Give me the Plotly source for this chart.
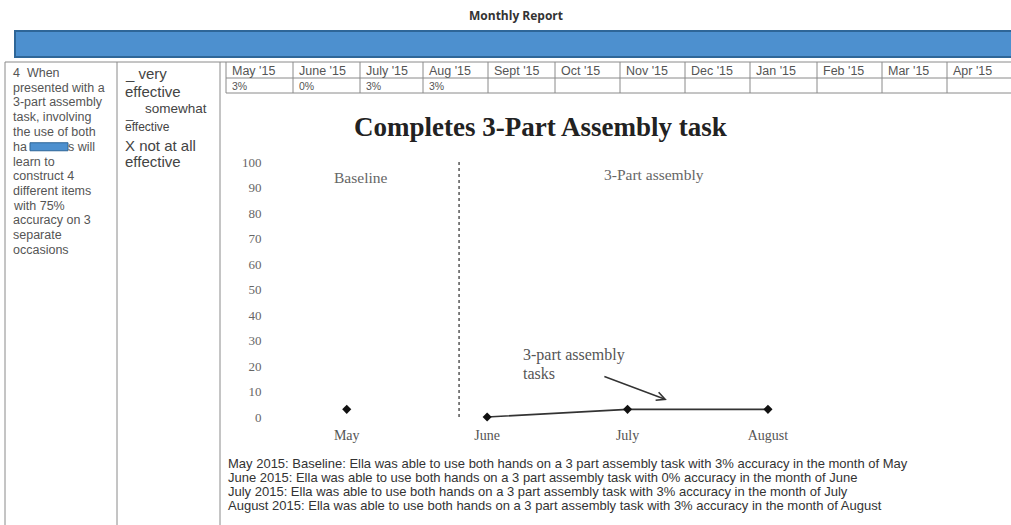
import plotly.graph_objects as go

# ---------------- data ----------------
months = ["May", "June", "July", "August"]
baseline_months = ["May"]
baseline_values = [3]
intervention_months = ["June", "July", "August"]
intervention_values = [0, 3, 3]
y_ticks = [0, 10, 20, 30, 40, 50, 60, 70, 80, 90, 100]

table_months = ["May '15", "June '15", "July '15", "Aug '15", "Sept '15", "Oct '15",
                "Nov '15", "Dec '15", "Jan '15", "Feb '15", "Mar '15", "Apr '15"]
table_values = ["3%", "0%", "3%", "3%", "", "", "", "", "", "", "", ""]

goal_lines = ["4  When", "presented with a", "3-part assembly", "task, involving",
              "the use of both", None, "learn to", "construct 4", "different items",
              "with 75%", "accuracy on 3", "separate", "occasions"]

notes = [
    "May 2015: Baseline: Ella was able to use both hands on a 3 part assembly task with 3% accuracy in the month of May",
    "June 2015: Ella was able to use both hands on a 3 part assembly task with 0% accuracy in the month of June",
    "July 2015: Ella was able to use both hands on a 3 part assembly task with 3% accuracy in the month of July",
    "August 2015: Ella was able to use both hands on a 3 part assembly task with 3% accuracy in the month of August",
]

W, H = 1011, 525


def px(x):
    return x / W


def py(y):
    return 1 - y / H


SANS = "Liberation Sans"
SERIF = "Liberation Serif"

fig = go.Figure()

fig.add_trace(go.Scatter(
    x=baseline_months, y=baseline_values, mode="markers",
    marker=dict(symbol="diamond", size=7, color="#111"),
    showlegend=False, hoverinfo="skip"))
fig.add_trace(go.Scatter(
    x=intervention_months, y=intervention_values, mode="lines+markers",
    line=dict(color="#333", width=1.6),
    marker=dict(symbol="diamond", size=7, color="#111"),
    showlegend=False, hoverinfo="skip"))

shapes = []
annotations = []

# blue header bar
shapes.append(dict(type="rect", xref="paper", yref="paper",
                   x0=px(15), x1=px(1013), y0=py(57), y1=py(31),
                   fillcolor="#4d90cf", line=dict(color="#2e6698", width=2)))

# table lines
grid = dict(color="#8a8a8a", width=1)
shapes.append(dict(type="line", xref="paper", yref="paper",
                   x0=px(5), x1=px(1011), y0=py(62), y1=py(62), line=grid))
for x in (5, 117, 220):
    shapes.append(dict(type="line", xref="paper", yref="paper",
                       x0=px(x), x1=px(x), y0=py(62), y1=py(525), line=grid))
col_edges = [226, 293, 360, 423, 488, 555, 620, 685, 750, 817, 882, 947, 1012]
for x in col_edges:
    shapes.append(dict(type="line", xref="paper", yref="paper",
                       x0=px(x), x1=px(x), y0=py(62), y1=py(93), line=grid))
for y in (78, 93):
    shapes.append(dict(type="line", xref="paper", yref="paper",
                       x0=px(226), x1=px(1011), y0=py(y), y1=py(y), line=grid))

for i, (m, v) in enumerate(zip(table_months, table_values)):
    annotations.append(dict(x=px(col_edges[i] + 4), y=py(71), xref="paper", yref="paper",
                            text=m, showarrow=False, xanchor="left", yanchor="middle",
                            font=dict(family=SANS, size=12.5, color="#555")))
    if v:
        annotations.append(dict(x=px(col_edges[i] + 4), y=py(86), xref="paper", yref="paper",
                                text=v, showarrow=False, xanchor="left", yanchor="middle",
                                font=dict(family=SANS, size=10.5, color="#555")))

# left goal column
GF = dict(family=SANS, size=12.5, color="#555")
for i, t in enumerate(goal_lines):
    y = 73 + 14.75 * i
    if t is None:
        annotations.append(dict(x=px(11), y=py(y), xref="paper", yref="paper", text="ha",
                                showarrow=False, xanchor="left", yanchor="middle", font=GF))
        annotations.append(dict(x=px(66), y=py(y), xref="paper", yref="paper", text="s will",
                                showarrow=False, xanchor="left", yanchor="middle", font=GF))
        shapes.append(dict(type="rect", xref="paper", yref="paper",
                           x0=px(30), x1=px(68), y0=py(y + 4), y1=py(y - 4),
                           fillcolor="#4d90cf", line=dict(color="#2e6698", width=1)))
    else:
        annotations.append(dict(x=px(11), y=py(y), xref="paper", yref="paper", text=t,
                                showarrow=False, xanchor="left", yanchor="middle", font=GF))

# effectiveness column
eff = [("_ very", 123, 73, 15), ("effective", 123, 92, 15), ("_", 123, 114, 13),
       ("somewhat", 143, 109, 13.5), ("effective", 123, 127, 12),
       ("X not at all", 123, 145, 15), ("effective", 123, 162, 15)]
for t, x, y, s in eff:
    annotations.append(dict(x=px(x), y=py(y), xref="paper", yref="paper", text=t,
                            showarrow=False, xanchor="left", yanchor="middle",
                            font=dict(family=SANS, size=s, color="#444")))

# page title
annotations.append(dict(x=px(516), y=py(16), xref="paper", yref="paper",
                        text="<b>Monthly Report</b>", showarrow=False,
                        xanchor="center", yanchor="middle",
                        font=dict(family="Open Sans", size=12, color="#333")))

# chart title
annotations.append(dict(x=px(540), y=py(127), xref="paper", yref="paper",
                        text="<b>Completes 3-Part Assembly task</b>", showarrow=False,
                        xanchor="center", yanchor="middle",
                        font=dict(family=SERIF, size=27, color="#222")))

# phase labels
annotations.append(dict(x=0.095, y=94, xref="x", yref="y", text="Baseline",
                        showarrow=False, font=dict(family=SERIF, size=15.5, color="#666")))
annotations.append(dict(x=2.19, y=95, xref="x", yref="y", text="3-Part assembly",
                        showarrow=False, font=dict(family=SERIF, size=15.5, color="#666")))

# series label with arrow
for t, y in (("3-part assembly", 355), ("tasks", 373)):
    annotations.append(dict(x=px(521), y=py(y), xref="paper", yref="paper",
                            text=t, showarrow=False, xanchor="left", yanchor="middle",
                            font=dict(family=SERIF, size=16, color="#555")))
annotations.append(dict(x=2.28, y=6.7, xref="x", yref="y", ax=-64, ay=-24,
                        text="", showarrow=True, arrowhead=5, arrowsize=1.2,
                        arrowwidth=1.4, arrowcolor="#333"))

# phase change line
shapes.append(dict(type="line", xref="x", yref="y", x0=0.8, x1=0.8, y0=0, y1=100,
                   line=dict(color="#555", width=1.5, dash="dot")))

# notes
for i, t in enumerate(notes):
    annotations.append(dict(x=px(226), y=py(463 + 14 * i), xref="paper", yref="paper",
                            text=t, showarrow=False, xanchor="left", yanchor="middle",
                            font=dict(family=SANS, size=13, color="#333")))

fig.update_layout(
    width=W, height=H, autosize=False,
    margin=dict(l=0, r=0, t=0, b=0),
    paper_bgcolor="white", plot_bgcolor="white",
    shapes=shapes, annotations=annotations,
    xaxis=dict(domain=[262.5 / W, 852.2 / W], range=[-0.6, 3.6],
               type="category", categoryorder="array", categoryarray=months,
               showgrid=False, zeroline=False, showline=False, ticks="",
               tickfont=dict(family=SERIF, size=14, color="#555")),
    yaxis=dict(domain=[1 - 424.65 / H, 1 - 154.35 / H], range=[-3, 103],
               tickvals=y_ticks, showgrid=False, zeroline=False, showline=False,
               ticks="", tickfont=dict(family=SERIF, size=13, color="#666")),
)

fig.write_html("out.html", config={"displayModeBar": False},
               post_script="document.body.style.margin='0';")
